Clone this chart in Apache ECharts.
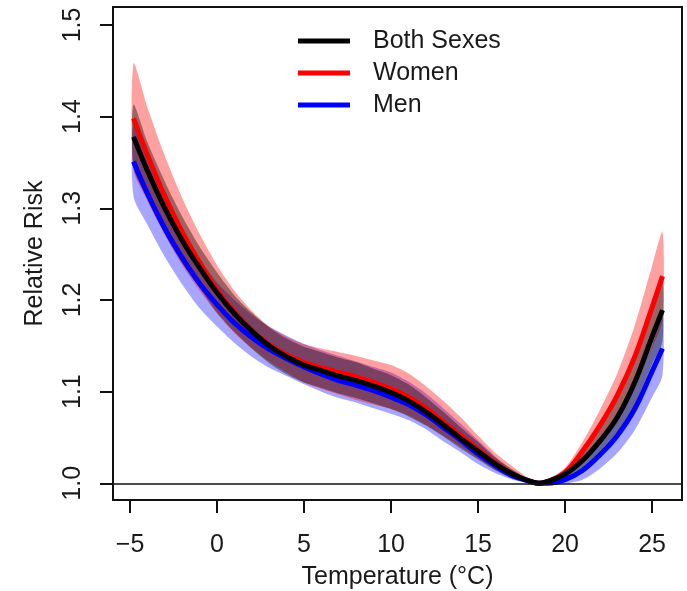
<!DOCTYPE html>
<html>
<head>
<meta charset="utf-8">
<script src="https://cdn.jsdelivr.net/npm/echarts@6/dist/echarts.min.js"></script>
<style>
  html, body { margin: 0; padding: 0; background: #fff; }
  #chart { width: 687px; height: 591px; }
</style>
</head>
<body>
<div id="chart"></div>
<script>
// temperature grid (°C)
const temps = [-4.8, -4, -3, -2, -1, 0, 1, 2, 3, 4, 5, 6, 7, 8, 9, 10, 11, 12, 13, 14, 15, 16, 17, 18, 18.5, 19, 20, 21, 22, 23, 24, 25, 25.6];

// relative risk curves
const bothRR  = [1.378, 1.341, 1.300, 1.265, 1.235, 1.208, 1.185, 1.166, 1.150, 1.138, 1.129, 1.123, 1.117, 1.112, 1.106, 1.099, 1.090, 1.078, 1.064, 1.049, 1.035, 1.021, 1.010, 1.002, 1.000, 1.002, 1.010, 1.025, 1.046, 1.072, 1.110, 1.160, 1.189];
const womenRR = [1.398, 1.358, 1.313, 1.274, 1.241, 1.211, 1.187, 1.167, 1.151, 1.140, 1.132, 1.126, 1.121, 1.116, 1.110, 1.103, 1.094, 1.082, 1.067, 1.052, 1.037, 1.022, 1.010, 1.002, 1.000, 1.002, 1.012, 1.035, 1.063, 1.096, 1.138, 1.192, 1.226];
const menRR   = [1.351, 1.316, 1.278, 1.246, 1.218, 1.195, 1.175, 1.159, 1.146, 1.136, 1.127, 1.119, 1.112, 1.107, 1.101, 1.094, 1.086, 1.075, 1.061, 1.047, 1.032, 1.019, 1.008, 1.002, 1.000, 1.000, 1.004, 1.014, 1.031, 1.052, 1.081, 1.122, 1.147];

// confidence bands
const bothLo  = [1.344, 1.311, 1.272, 1.240, 1.213, 1.186, 1.165, 1.147, 1.131, 1.119, 1.110, 1.104, 1.098, 1.093, 1.087, 1.081, 1.073, 1.063, 1.051, 1.038, 1.026, 1.014, 1.005, 1.001, 1.000, 1.001, 1.005, 1.015, 1.031, 1.052, 1.086, 1.130, 1.155];
const bothHi  = [1.413, 1.372, 1.329, 1.291, 1.258, 1.230, 1.205, 1.186, 1.170, 1.158, 1.149, 1.143, 1.137, 1.132, 1.125, 1.118, 1.108, 1.094, 1.078, 1.061, 1.045, 1.028, 1.015, 1.003, 1.000, 1.003, 1.015, 1.036, 1.062, 1.093, 1.135, 1.192, 1.225];
const womenLo = [1.342, 1.308, 1.271, 1.238, 1.210, 1.185, 1.164, 1.147, 1.133, 1.121, 1.110, 1.103, 1.097, 1.091, 1.086, 1.081, 1.074, 1.064, 1.052, 1.040, 1.027, 1.015, 1.006, 1.001, 1.000, 1.001, 1.007, 1.025, 1.046, 1.072, 1.105, 1.148, 1.178];
const womenHi = [1.458, 1.410, 1.357, 1.311, 1.272, 1.238, 1.210, 1.188, 1.171, 1.160, 1.152, 1.147, 1.143, 1.139, 1.134, 1.129, 1.120, 1.106, 1.090, 1.072, 1.052, 1.033, 1.018, 1.004, 1.000, 1.004, 1.017, 1.045, 1.080, 1.120, 1.172, 1.237, 1.274];
const menLo   = [1.313, 1.282, 1.247, 1.217, 1.191, 1.171, 1.153, 1.138, 1.126, 1.117, 1.108, 1.100, 1.093, 1.088, 1.082, 1.076, 1.069, 1.059, 1.046, 1.034, 1.021, 1.011, 1.004, 1.000, 1.000, 1.000, 1.000, 1.004, 1.016, 1.033, 1.058, 1.094, 1.118];
const menHi   = [1.390, 1.352, 1.311, 1.276, 1.245, 1.219, 1.200, 1.184, 1.171, 1.161, 1.152, 1.145, 1.139, 1.133, 1.127, 1.121, 1.111, 1.098, 1.082, 1.065, 1.047, 1.029, 1.013, 1.004, 1.000, 1.002, 1.010, 1.025, 1.046, 1.071, 1.104, 1.150, 1.183];

const xTicks = [-5, 0, 5, 10, 15, 20, 25];
const yTicks = [1.0, 1.1, 1.2, 1.3, 1.4, 1.5];

const FONT = 'Liberation Sans, Arial, Helvetica, sans-serif';
const TEXT = '#1a1a1a';

function pairs(ys) {
  return temps.map((t, i) => [t, ys[i]]);
}

// shaded band: one polygon built from all rows (upper edge, then lower edge back)
function band(id, lo, hi, fill) {
  return {
    name: id, type: 'custom', silent: true,
    data: temps.map((t, i) => [t, lo[i], hi[i]]),
    encode: { x: 0, y: [1, 2] },
    renderItem: function (params, api) {
      if (params.dataIndexInside !== 0) return;
      const n = params.dataInsideLength;
      let top = [], bottom = [];
      for (let i = 0; i < n; i++) {
        top.push(api.coord([api.value(0, i), api.value(2, i)]));
        bottom.push(api.coord([api.value(0, i), api.value(1, i)]));
      }
      return {
        type: 'polygon',
        shape: { points: top.concat(bottom.reverse()), smooth: 0.25 },
        style: { fill: fill, stroke: null }
      };
    }
  };
}

function curve(name, ys, color, extra) {
  return Object.assign({
    name: name, type: 'line', data: pairs(ys),
    showSymbol: false, smooth: 0.4, silent: true,
    color: color,
    lineStyle: { color: color, width: 5 }
  }, extra || {});
}

let chart = echarts.init(document.getElementById('chart'));
chart.setOption({
  animation: false,
  backgroundColor: '#fff',
  textStyle: { fontFamily: FONT },
  grid: {
    left: 113, right: 5, top: 7, bottom: 91,
    outerBoundsMode: 'none',
    show: true, borderColor: '#111', borderWidth: 2, backgroundColor: 'transparent'
  },
  legend: {
    data: ['Both Sexes', 'Women', 'Men'],
    orient: 'vertical',
    left: 293, top: 20,
    itemGap: 0,
    itemWidth: 52, itemHeight: 5,
    icon: 'rect',
    selectedMode: false,
    textStyle: { fontSize: 25, color: TEXT, fontFamily: FONT, lineHeight: 32, padding: [0, 0, 0, 18] }
  },
  xAxis: {
    type: 'value',
    min: -5.98, max: 26.72,
    name: 'Temperature (°C)',
    nameLocation: 'middle',
    nameGap: 65,
    nameTextStyle: { fontSize: 25, color: TEXT, fontFamily: FONT },
    axisLine: { show: false, onZero: false },
    splitLine: { show: false },
    axisTick: { show: true, length: 13, customValues: xTicks, lineStyle: { color: '#111', width: 2 } },
    axisLabel: {
      customValues: xTicks, margin: 33, fontSize: 25, color: TEXT, fontFamily: FONT,
      formatter: v => String(v).replace('-', '\u2212')
    }
  },
  yAxis: {
    type: 'value',
    min: 0.9818, max: 1.5196,
    name: 'Relative Risk',
    nameLocation: 'middle',
    nameGap: 65,
    nameTextStyle: { fontSize: 25, color: TEXT, fontFamily: FONT },
    axisLine: { show: false, onZero: false },
    splitLine: { show: false },
    axisTick: { show: true, length: 13, customValues: yTicks, lineStyle: { color: '#111', width: 2 } },
    axisLabel: {
      customValues: yTicks, margin: 27, rotate: 90, fontSize: 25, color: TEXT, fontFamily: FONT,
      formatter: v => v.toFixed(1)
    }
  },
  series: [
    band('menBand', menLo, menHi, 'rgba(0,0,255,0.35)'),
    band('womenBand', womenLo, womenHi, 'rgba(255,0,0,0.37)'),
    band('bothBand', bothLo, bothHi, 'rgba(0,0,0,0.38)'),
    curve('Women', womenRR, '#ff0000'),
    curve('Men', menRR, '#0000ff'),
    curve('Both Sexes', bothRR, '#000000', {
      markLine: {
        silent: true, symbol: 'none', label: { show: false },
        lineStyle: { color: '#111', width: 1.5, type: 'solid' },
        data: [{ yAxis: 1 }]
      }
    })
  ]
});
</script>
</body>
</html>
